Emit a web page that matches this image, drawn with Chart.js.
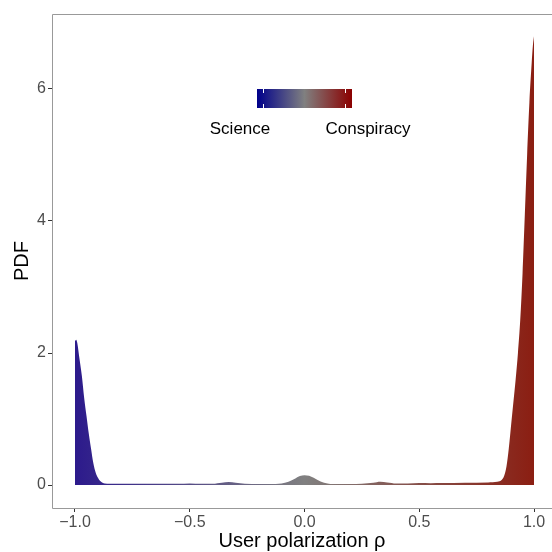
<!DOCTYPE html>
<html lang="en">
<head>
    <meta charset="UTF-8">
    <title>User polarization PDF</title>
    <style>
        body { margin: 0; background: #fff; overflow: hidden; }
    </style>
    <script src="https://cdn.jsdelivr.net/npm/chart.js@4.4.1/dist/chart.umd.min.js"></script>
</head>
<body>
    <canvas id="pdfChart" width="552" height="552"></canvas>

    <script>
        // polarization values (x) and estimated density (y)
        const rho = [-1.0, -0.995, -0.99, -0.98, -0.97, -0.96, -0.95, -0.94, -0.93, -0.92, -0.91, -0.90, -0.89, -0.88, -0.87, -0.85,
                     -0.8, -0.7, -0.6, -0.55, -0.5, -0.45, -0.4, -0.36, -0.33, -0.3, -0.26, -0.2, -0.15, -0.1, -0.07, -0.04, -0.02,
                     0.0, 0.02, 0.04, 0.07, 0.1, 0.15, 0.2, 0.25, 0.3, 0.33, 0.36, 0.4, 0.45, 0.5, 0.55, 0.6, 0.7, 0.8,
                     0.84, 0.86, 0.87, 0.88, 0.89, 0.90, 0.91, 0.92, 0.93, 0.94, 0.95, 0.96, 0.97, 0.98, 0.99, 0.995, 1.0];
        const pdf = [2.18, 2.2, 2.15, 1.9, 1.65, 1.32, 1.05, 0.78, 0.55, 0.33, 0.19, 0.11, 0.06, 0.035, 0.025, 0.02,
                     0.018, 0.018, 0.018, 0.02, 0.025, 0.02, 0.02, 0.035, 0.045, 0.035, 0.02, 0.015, 0.015, 0.025, 0.05, 0.10, 0.135,
                     0.15, 0.14, 0.11, 0.055, 0.025, 0.015, 0.015, 0.02, 0.035, 0.05, 0.04, 0.025, 0.025, 0.03, 0.028, 0.03, 0.035, 0.04,
                     0.05, 0.08, 0.14, 0.28, 0.55, 0.9, 1.25, 1.6, 2.0, 2.5, 3.2, 4.1, 5.0, 5.8, 6.4, 6.65, 6.8];

        const xTicks = [-1.0, -0.5, 0.0, 0.5, 1.0];
        const yTicks = [0, 2, 4, 6];
        const legendLabels = ['Science', 'Conspiracy'];

        const FONT = '"Liberation Sans", Arial, sans-serif';

        function fmt(v, digits) {
            const s = Math.abs(v).toFixed(digits);
            return v < 0 ? '\u2212' + s : s;
        }

        function fillGradient(context) {
            const chart = context.chart;
            const { ctx, chartArea, scales } = chart;
            if (!chartArea) return '#808080';
            const x0 = scales.x.getPixelForValue(-1);
            const x1 = scales.x.getPixelForValue(1);
            const g = ctx.createLinearGradient(x0, 0, x1, 0);
            g.addColorStop(0, '#2c1a8c');
            g.addColorStop(0.5, '#808080');
            g.addColorStop(1, '#8b1e12');
            return g;
        }

        // panel border + colour legend
        const decorPlugin = {
            id: 'decor',
            afterDraw(chart) {
                const { ctx, chartArea } = chart;
                ctx.save();
                ctx.strokeStyle = '#999999';
                ctx.lineWidth = 1;
                ctx.beginPath();
                ctx.moveTo(chartArea.right + 10, chartArea.top + 0.5);
                ctx.lineTo(chartArea.left + 0.5, chartArea.top + 0.5);
                ctx.lineTo(chartArea.left + 0.5, chartArea.bottom + 0.5);
                ctx.lineTo(chartArea.right + 10, chartArea.bottom + 0.5);
                ctx.stroke();

                // legend bar
                const bx = 257, by = 89, bw = 95, bh = 19;
                const g = ctx.createLinearGradient(bx, 0, bx + bw, 0);
                g.addColorStop(0, '#00008b');
                g.addColorStop(0.5, '#808080');
                g.addColorStop(1, '#8b0000');
                ctx.fillStyle = g;
                ctx.fillRect(bx, by, bw, bh);
                ctx.strokeStyle = '#ffffff';
                [263.5, 345.5].forEach(tx => {
                    ctx.beginPath();
                    ctx.moveTo(tx, by); ctx.lineTo(tx, by + 4);
                    ctx.moveTo(tx, by + bh - 4); ctx.lineTo(tx, by + bh);
                    ctx.stroke();
                });

                ctx.fillStyle = '#000000';
                ctx.font = '17px ' + FONT;
                ctx.textAlign = 'center';
                ctx.textBaseline = 'middle';
                ctx.fillText(legendLabels[0], 240, 129);
                ctx.fillText(legendLabels[1], 368, 129);
                ctx.restore();
            }
        };

        new Chart(document.getElementById('pdfChart').getContext('2d'), {
            type: 'line',
            data: {
                datasets: [{
                    label: 'PDF',
                    data: rho.map((x, i) => ({ x: x, y: pdf[i] })),
                    borderWidth: 0,
                    borderColor: 'rgba(0,0,0,0)',
                    backgroundColor: fillGradient,
                    fill: 'origin',
                    pointRadius: 0,
                    cubicInterpolationMode: 'monotone'
                }]
            },
            options: {
                responsive: false,
                animation: false,
                layout: { padding: { top: 14, right: 0, left: 0, bottom: 0 } },
                plugins: {
                    legend: { display: false },
                    tooltip: { enabled: false }
                },
                scales: {
                    x: {
                        type: 'linear',
                        min: -1.1002,
                        max: 1.0784,
                        afterFit: s => { s.height = 44; },
                        afterBuildTicks: s => { s.ticks = xTicks.map(v => ({ value: v })); },
                        border: { display: false },
                        grid: { drawOnChartArea: false, drawTicks: true, tickLength: 4, tickColor: '#333333' },
                        ticks: {
                            padding: 1,
                            maxRotation: 0,
                            color: '#4d4d4d',
                            font: { family: FONT, size: 16 },
                            callback: v => fmt(v, 1)
                        },
                        title: {
                            display: true,
                            text: 'User polarization \u03c1',
                            color: '#000000',
                            font: { family: FONT, size: 20, lineHeight: 1.1 },
                            padding: { top: 0, bottom: 0 }
                        }
                    },
                    y: {
                        min: -0.348,
                        max: 7.136,
                        afterFit: s => { s.width = 52; },
                        afterBuildTicks: s => { s.ticks = yTicks.map(v => ({ value: v })); },
                        border: { display: false },
                        grid: { drawOnChartArea: false, drawTicks: true, tickLength: 4, tickColor: '#333333' },
                        ticks: {
                            padding: 2,
                            color: '#4d4d4d',
                            font: { family: FONT, size: 16 },
                            callback: v => fmt(v, 0)
                        },
                        title: {
                            display: true,
                            text: 'PDF',
                            color: '#000000',
                            font: { family: FONT, size: 20 },
                            padding: { top: 10, bottom: 0 }
                        }
                    }
                }
            },
            plugins: [decorPlugin]
        });
    </script>
</body>
</html>
